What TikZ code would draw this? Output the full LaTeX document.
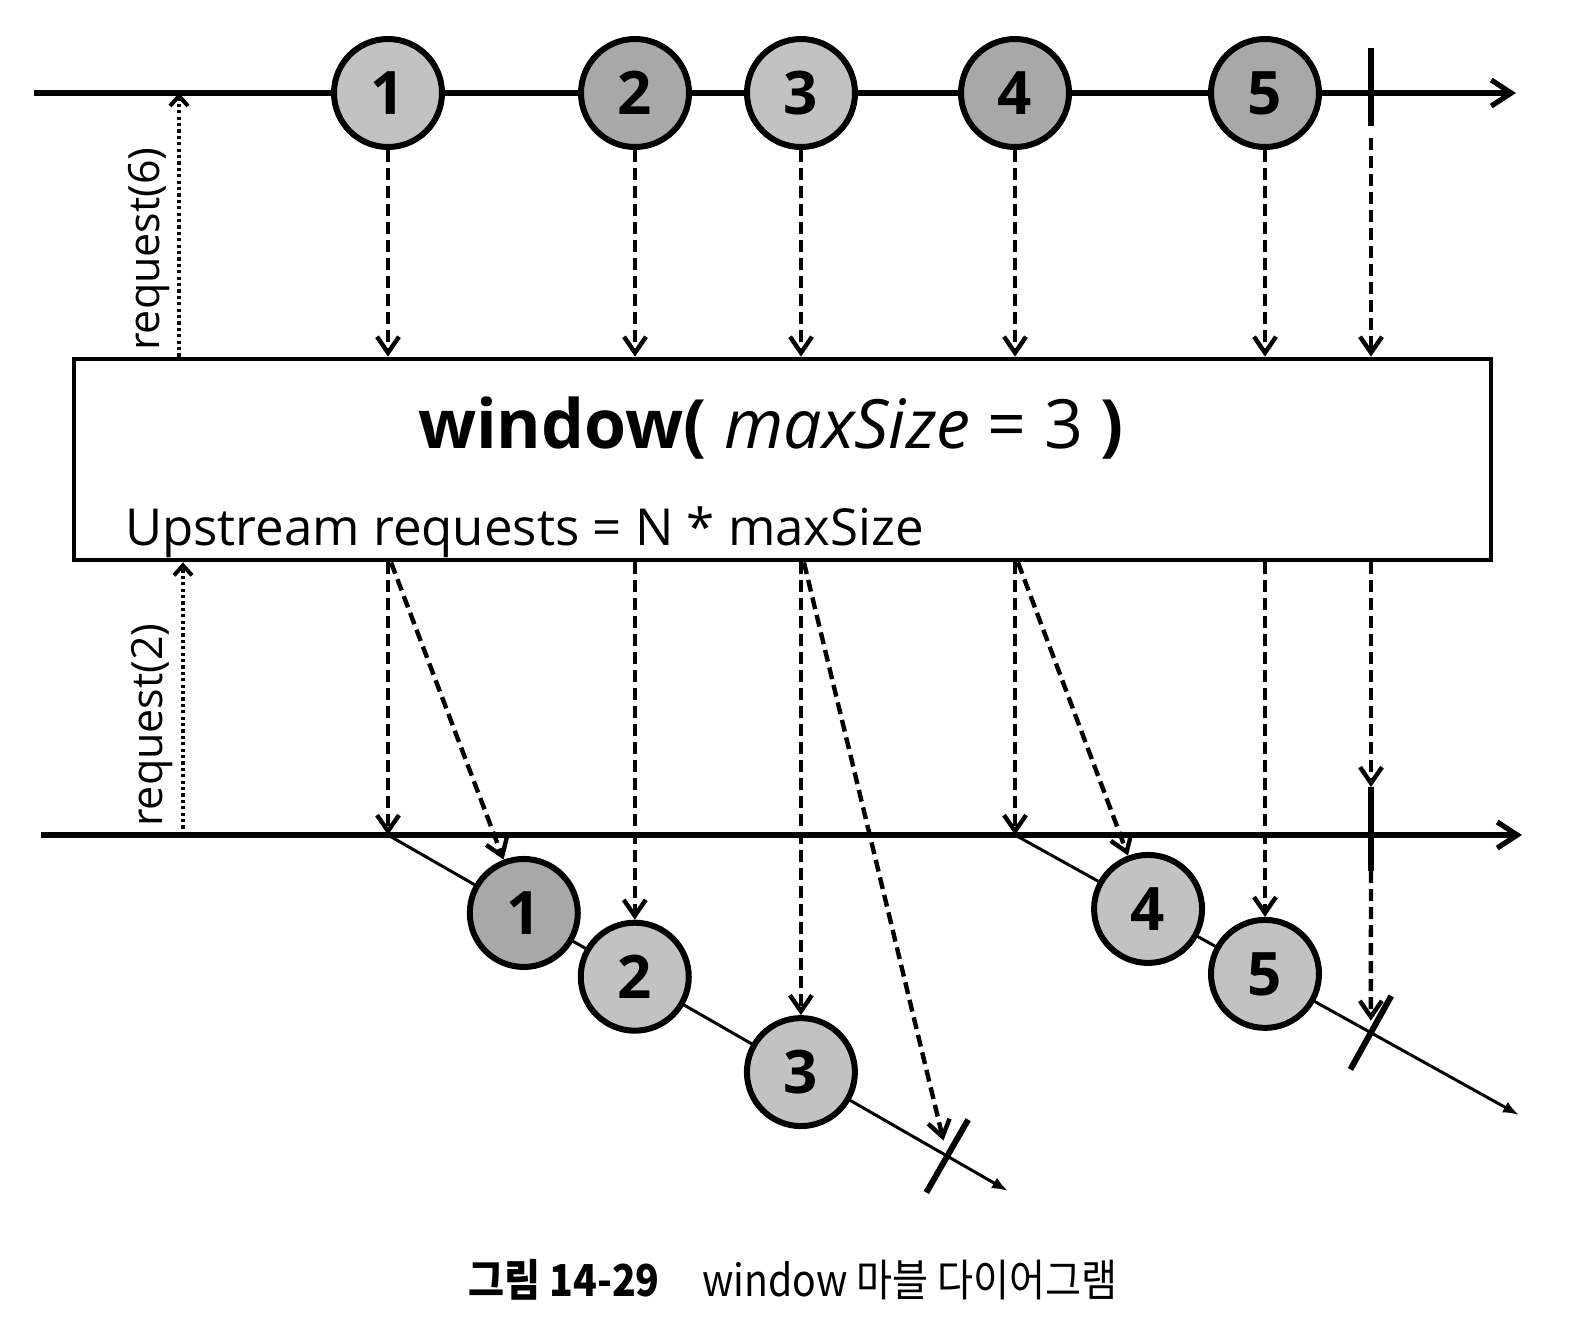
\documentclass[tikz,border=0pt]{standalone}
\usepackage{fontspec}
\setmainfont{Open Sans}
\newfontfamily\krfont{Noto Sans CJK KR}
\usetikzlibrary{arrows.meta,calc}

\tikzset{
  marble/.style={circle,draw,line width=3pt,fill=black!24,minimum size=54pt,inner sep=0pt,
    font=\fontsize{30}{30}\selectfont\bfseries},
  dark/.style={fill=black!34},
  axis/.style={line width=2.6pt,-{Straight Barb[length=10pt,width=13pt]}},
  winline/.style={line width=1.5pt,-{Latex[length=8pt,width=6pt]}},
  flow/.style={line width=2.2pt,dash pattern=on 6pt off 3pt,-{Straight Barb[length=8pt,width=11pt]}},
  req/.style={line width=2pt,dash pattern=on 1.6pt off 1.6pt,-{Straight Barb[length=5pt,width=9pt]}},
  done/.style={line width=3pt},
}

\begin{document}
\begin{tikzpicture}[x=0.5pt,y=-0.5pt]
\useasboundingbox (0,0) rectangle (1596,1328);

% upstream
\coordinate (src0) at (34,93);
\coordinate (src1) at (1516,93);
\draw[axis] (src0) -- (src1);
\node[marble] (m1) at (388,93) {1};
\node[marble,dark] (m2) at (635,93) {2};
\node[marble] (m3) at (801,93) {3};
\node[marble,dark] (m4) at (1015,93) {4};
\node[marble,dark] (m5) at (1265,93) {5};
\coordinate (tc) at (1371,88);
\draw[done] ($(tc)+(0,-40)$) -- ($(tc)+(0,38)$);

% operator
\node[draw,line width=2.4pt,minimum width=708.5pt,minimum height=100.5pt,inner sep=0pt] (box) at (782.5,459.5) {};
\node[font=\fontsize{34}{34}\selectfont] (title) at (771,428)
  {\textbf{window(}\ \textit{maxSize} = 3 \textbf{)}};
\node[anchor=base west,font=\fontsize{25.5}{25.5}\selectfont] (upreq) at (118,545)
  {Upstream requests = N * maxSize};

\foreach \m in {m1,m2,m3,m4,m5}
  \draw[flow] (\m) -- (\m |- box.north);
\draw[flow,shorten <=6pt] ($(tc)+(0,38)$) -- (tc |- box.north);

% request(6)
\coordinate (r6) at (179,93);
\draw[req] (r6 |- box.north) -- (r6);
\node[rotate=90,font=\fontsize{21.5}{21.5}\selectfont] (req6) at (149,249) {request(6)};

% downstream
\coordinate (out0) at (41,835);
\coordinate (out1) at (1522,835);
\draw[axis] (out0) -- (out1);
\coordinate (r2) at (183,835);
\draw[req] (r2) -- (r2 |- box.south);
\node[rotate=90,font=\fontsize{21.5}{21.5}\selectfont] (req2) at (152,725) {request(2)};

% window 1
\coordinate (w1) at (388,835);
\coordinate (w1e) at (1008,1191);
\draw[winline] (w1) -- (w1e);
\path (w1) -- (w1e)
  node[marble,dark,pos=0.219] (lm1) {1}
  node[marble,pos=0.398] (lm2) {2}
  node[marble,pos=0.666] (lm3) {3}
  coordinate[pos=0.902] (t1);
\draw[done] ($(t1)!21pt!90:(w1e)$) -- ($(t1)!21pt!-90:(w1e)$);
\draw[flow] (w1 |- box.south) -- (w1);
\draw[flow] ($(w1 |- box.south)+(3,0)$) -- (lm1);
\draw[flow] (lm2 |- box.south) -- (lm2);
\draw[flow] (lm3 |- box.south) -- (lm3);
\draw[flow,shorten >=8pt] ($(lm3 |- box.south)+(3,0)$) -- (t1);

% window 2
\coordinate (w2) at (1015,835);
\coordinate (w2e) at (1519,1115);
\draw[winline] (w2) -- (w2e);
\path (w2) -- (w2e)
  node[marble,pos=0.264] (lm4) {4}
  node[marble,pos=0.496] (lm5) {5}
  coordinate[pos=0.706] (t2);
\draw[done] ($(t2)!21pt!90:(w2e)$) -- ($(t2)!21pt!-90:(w2e)$);
\draw[flow] (w2 |- box.south) -- (w2);
\draw[flow] ($(w2 |- box.south)+(3,0)$) -- (lm4);
\draw[flow] (lm5 |- box.south) -- (lm5);

% completion
\coordinate (tk) at (1371,835);
\draw[flow] (tk |- box.south) -- ($(tk)+(0,-48)$);
\draw[done] ($(tk)+(0,-48)$) -- ($(tk)+(0,36)$);
\draw[flow,shorten >=6pt] ($(tk)+(0,36)$) -- (t2);

\node[font=\krfont\fontsize{22}{22}\selectfont,xscale=0.89] (caption) at (793,1280)
  {\textbf{그림 14-29}\hspace{24pt}window 마블 다이어그램};
\end{tikzpicture}
\end{document}
